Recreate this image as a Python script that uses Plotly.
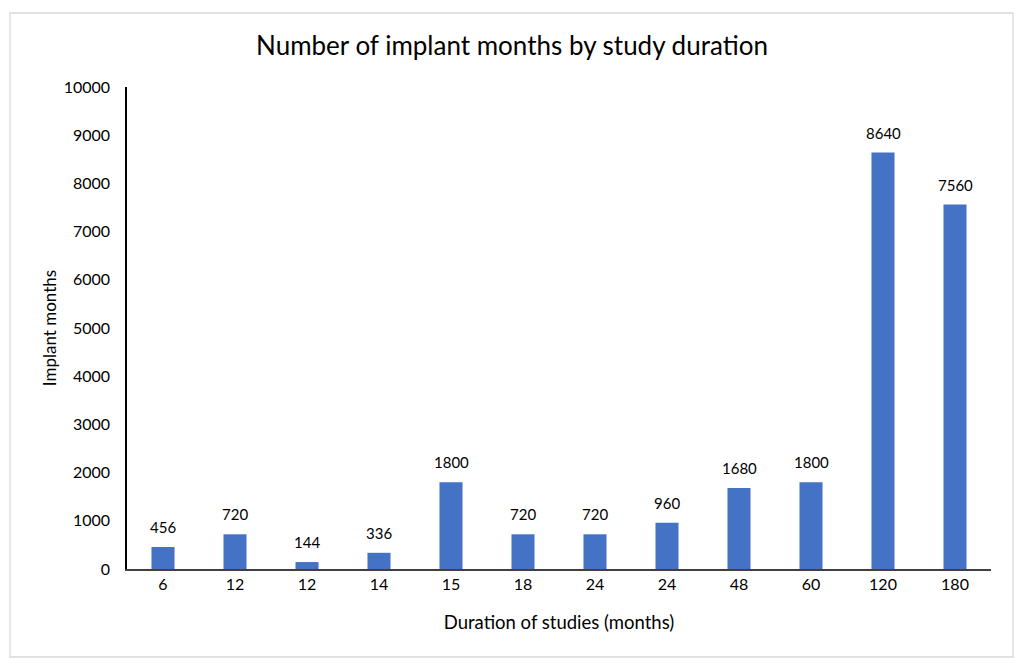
import plotly.graph_objects as go

durations = ["6", "12", "12", "14", "15", "18", "24", "24", "48", "60", "120", "180"]
implant_months = [456, 720, 144, 336, 1800, 720, 720, 960, 1680, 1800, 8640, 7560]
y_ticks = [0, 1000, 2000, 3000, 4000, 5000, 6000, 7000, 8000, 9000, 10000]

positions = list(range(len(durations)))
FONT = "Lato, Open Sans, sans-serif"

fig = go.Figure(go.Bar(
    x=positions,
    y=implant_months,
    marker=dict(color="#4472C4", line=dict(width=0)),
    width=0.32,
    hoverinfo="x+y",
))

# page body has an 8px margin; compensate so the figure lands where the reference is
OFF = 8
W, H = 1024 - OFF, 667 - OFF
L, T = 127 - OFF, 87 - OFF
R = W - (991 - OFF)
B = H - (569 - OFF)
pw, ph = W - L - R, H - T - B

def px_x(px):
    return (px - OFF - L) / pw

def px_y(py):
    return (H - B - (py - OFF)) / ph

annotations = [
    dict(x=p, y=v, xref="x", yref="y", text=str(v), showarrow=False,
         yanchor="bottom", yshift=9, font=dict(family=FONT, size=15, color="#000000"))
    for p, v in zip(positions, implant_months)
]

fig.update_layout(
    width=W, height=H,
    margin=dict(l=L, r=R, t=T, b=B),
    paper_bgcolor="white",
    plot_bgcolor="white",
    font=dict(family=FONT, color="#000000"),
    title=dict(text="Number of implant months by study duration", x=px_x(512), xanchor="center",
               xref="paper", y=1 - (46 - OFF) / H, yanchor="middle",
               font=dict(family=FONT, size=26, color="#000000")),
    showlegend=False,
    shapes=[dict(type="rect", xref="paper", yref="paper",
                 x0=px_x(10), x1=px_x(1013),
                 y0=px_y(657), y1=px_y(13),
                 line=dict(color="#d9d9d9", width=1.3), fillcolor="rgba(0,0,0,0)", layer="below")],
    annotations=annotations,
)

fig.update_xaxes(
    tickmode="array", tickvals=positions, ticktext=durations,
    range=[-0.5, len(durations) - 0.5],
    showline=True, linecolor="#404040", linewidth=1.5,
    showgrid=False, ticks="", tickfont=dict(size=16),
    title=dict(text="Duration of studies (months)", font=dict(size=18.5), standoff=24),
)
fig.update_yaxes(
    range=[0, 10000], tickmode="array", tickvals=y_ticks, ticktext=[str(t) for t in y_ticks],
    showline=True, linecolor="#000000", linewidth=1.5,
    showgrid=False, ticks="outside", ticklen=12, tickcolor="rgba(0,0,0,0)", tickfont=dict(size=16), zeroline=False,
    title=dict(text="Implant months", font=dict(size=17), standoff=3),
)

fig.write_html("out.html")
